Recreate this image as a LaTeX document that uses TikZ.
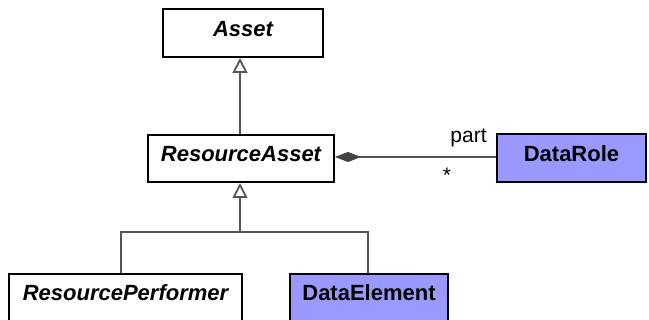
\documentclass[tikz,border=0pt]{standalone}
\usepackage{fontspec}
\setmainfont{Liberation Sans}
\usetikzlibrary{arrows.meta}
\definecolor{conn}{HTML}{555555}
\definecolor{dfill}{HTML}{9999FF}
\definecolor{diam}{HTML}{444444}
\begin{document}
\begin{tikzpicture}[x=1pt,y=-1pt,
  cls/.style={draw=black, line width=2pt, minimum height=47pt, inner sep=0pt,
    text height=16pt, text depth=9pt, font=\fontsize{22}{26}\selectfont\bfseries},
  abst/.style={cls, fill=white, font=\fontsize{22}{26}\selectfont\bfseries\itshape},
  conc/.style={cls, fill=dfill},
  cline/.style={draw=conn, line width=2pt},
  inh/.style={cline, -{Triangle[fill=white, length=15pt, width=15pt, line width=1.8pt]}},
  comp/.style={cline, {Diamond[fill=diam, color=diam, length=26pt, width=10pt, line width=0.5pt]}-},
  lbl/.style={font=\fontsize{21}{25}\selectfont, inner sep=0pt, anchor=base}
]
\useasboundingbox (0,0) rectangle (649,320);
\clip (0,0) rectangle (649,320);
\fill[white] (0,0) rectangle (649,320);
\node[abst, minimum width=160pt, minimum height=48pt] (asset) at (243,33) {Asset};
\node[abst, minimum width=186pt] (ra) at (241,158.5) {ResourceAsset};
\node[conc, minimum width=149pt, minimum height=48pt] (dr) at (571.5,158) {DataRole};
\node[abst, minimum width=233pt] (rp) at (125.5,297.5) {ResourcePerformer};
\node[conc, minimum width=158pt] (de) at (369,297.5) {DataElement};
\coordinate (ax) at (240,0);
\coordinate (lx) at (121,0);
\coordinate (rx) at (368,0);
\coordinate (cy) at (0,157);
\coordinate (j) at (240,232);
\draw[inh] (ra.north -| ax) -- (asset.south -| ax);
\draw[inh] (j) -- (ra.south -| ax);
\draw[cline] (rp.north -| lx) |- (j) -| (de.north -| rx);
\draw[comp] (ra.east |- cy) -- (dr.west |- cy);
\node[lbl] (part) at (468.5,143) {part};
\node[lbl] (mult) at (447,183) {*};
\end{tikzpicture}
\end{document}
